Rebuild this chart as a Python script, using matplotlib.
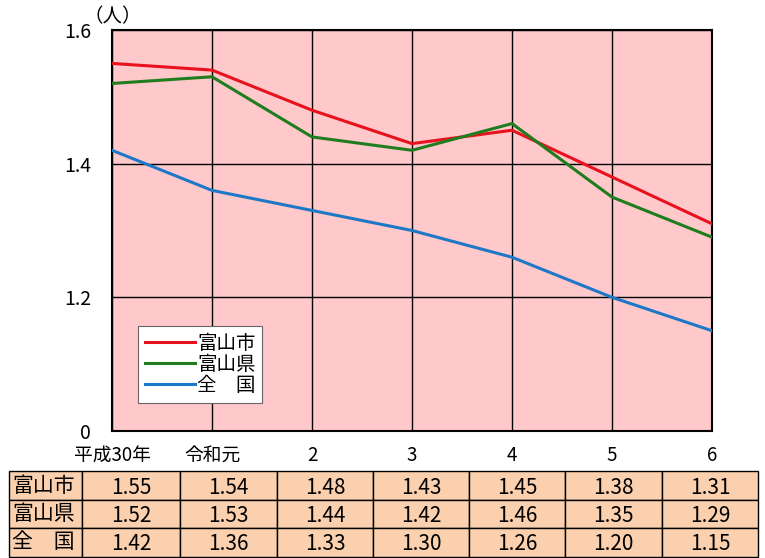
import matplotlib
matplotlib.use("Agg")
import matplotlib.pyplot as plt
from matplotlib.patches import Rectangle

plt.rcParams['font.family'] = ['Noto Sans CJK JP', 'DejaVu Sans']

categories = ['平成30年', '令和元', '2', '3', '4', '5', '6']
series_names = ['富山市', '富山県', '全　国']
toyama_city = [1.55, 1.54, 1.48, 1.43, 1.45, 1.38, 1.31]
toyama_pref = [1.52, 1.53, 1.44, 1.42, 1.46, 1.35, 1.29]
national = [1.42, 1.36, 1.33, 1.30, 1.26, 1.20, 1.15]
yticks = [1.0, 1.2, 1.4, 1.6]
ytick_labels = ['0', '1.2', '1.4', '1.6']

series = [toyama_city, toyama_pref, national]
colors = ['#E8121E', '#1F7D1F', '#1E78C8']

W, H = 765, 558
fig = plt.figure(figsize=(W / 100, H / 100), dpi=100)
fig.patch.set_facecolor('white')

# main plot area
L, R, T, B = 112, 712, 30, 431
ax = fig.add_axes([L / W, 1 - B / H, (R - L) / W, (B - T) / H])
ax.set_facecolor('#FFC8CA')
x = list(range(len(categories)))
for vals, c, name in zip(series, colors, series_names):
    ax.plot(x, vals, color=c, lw=2.2, label=name, zorder=3)
ax.set_xlim(0, len(categories) - 1)
ax.set_ylim(1.0, 1.6)
ax.set_yticks(yticks)
ax.set_yticklabels(ytick_labels)
ax.set_xticks(x)
ax.set_xticklabels(categories)
ax.tick_params(axis='y', length=0, pad=15, labelsize=14)
ax.tick_params(axis='x', length=0, pad=10, labelsize=13.5)
ax.grid(True, color='black', lw=1.0, zorder=1)
for s in ax.spines.values():
    s.set_linewidth(1.5)
    s.set_color('black')
ax.text(0.01, 1.6 + 0.005, '（人）', fontsize=14, ha='center', va='bottom')

leg = ax.legend(loc='upper left', bbox_to_anchor=(0.043, 0.262), fontsize=14,
                frameon=True, fancybox=False, edgecolor='#666666',
                facecolor='white', framealpha=1, handlelength=2.6,
                handletextpad=0.1, labelspacing=0.0, borderpad=0.35,
                borderaxespad=0)
leg.get_frame().set_linewidth(0.8)

# data table below chart
tax = fig.add_axes([0, 0, 1, 1])
tax.set_xlim(0, W)
tax.set_ylim(H, 0)
tax.axis('off')
col_edges = [9, 82, 180, 277, 373, 469, 565, 662, 758]
row_edges = [471, 500, 528, 557]
for r, (name, vals) in enumerate(zip(series_names, series)):
    y0, y1 = row_edges[r], row_edges[r + 1]
    for c in range(len(col_edges) - 1):
        x0, x1 = col_edges[c], col_edges[c + 1]
        tax.add_patch(Rectangle((x0, y0), x1 - x0, y1 - y0, facecolor='#FAD0AE',
                                edgecolor='black', lw=1.0))
        if c == 0:
            tax.text(x0 + 3, (y0 + y1) / 2, name, fontsize=15, ha='left', va='center')
        else:
            tax.text((x0 + x1) / 2, (y0 + y1) / 2 + 2, f'{vals[c - 1]:.2f}',
                     fontsize=15, ha='center', va='center')

fig.savefig('out.png', dpi=100)
